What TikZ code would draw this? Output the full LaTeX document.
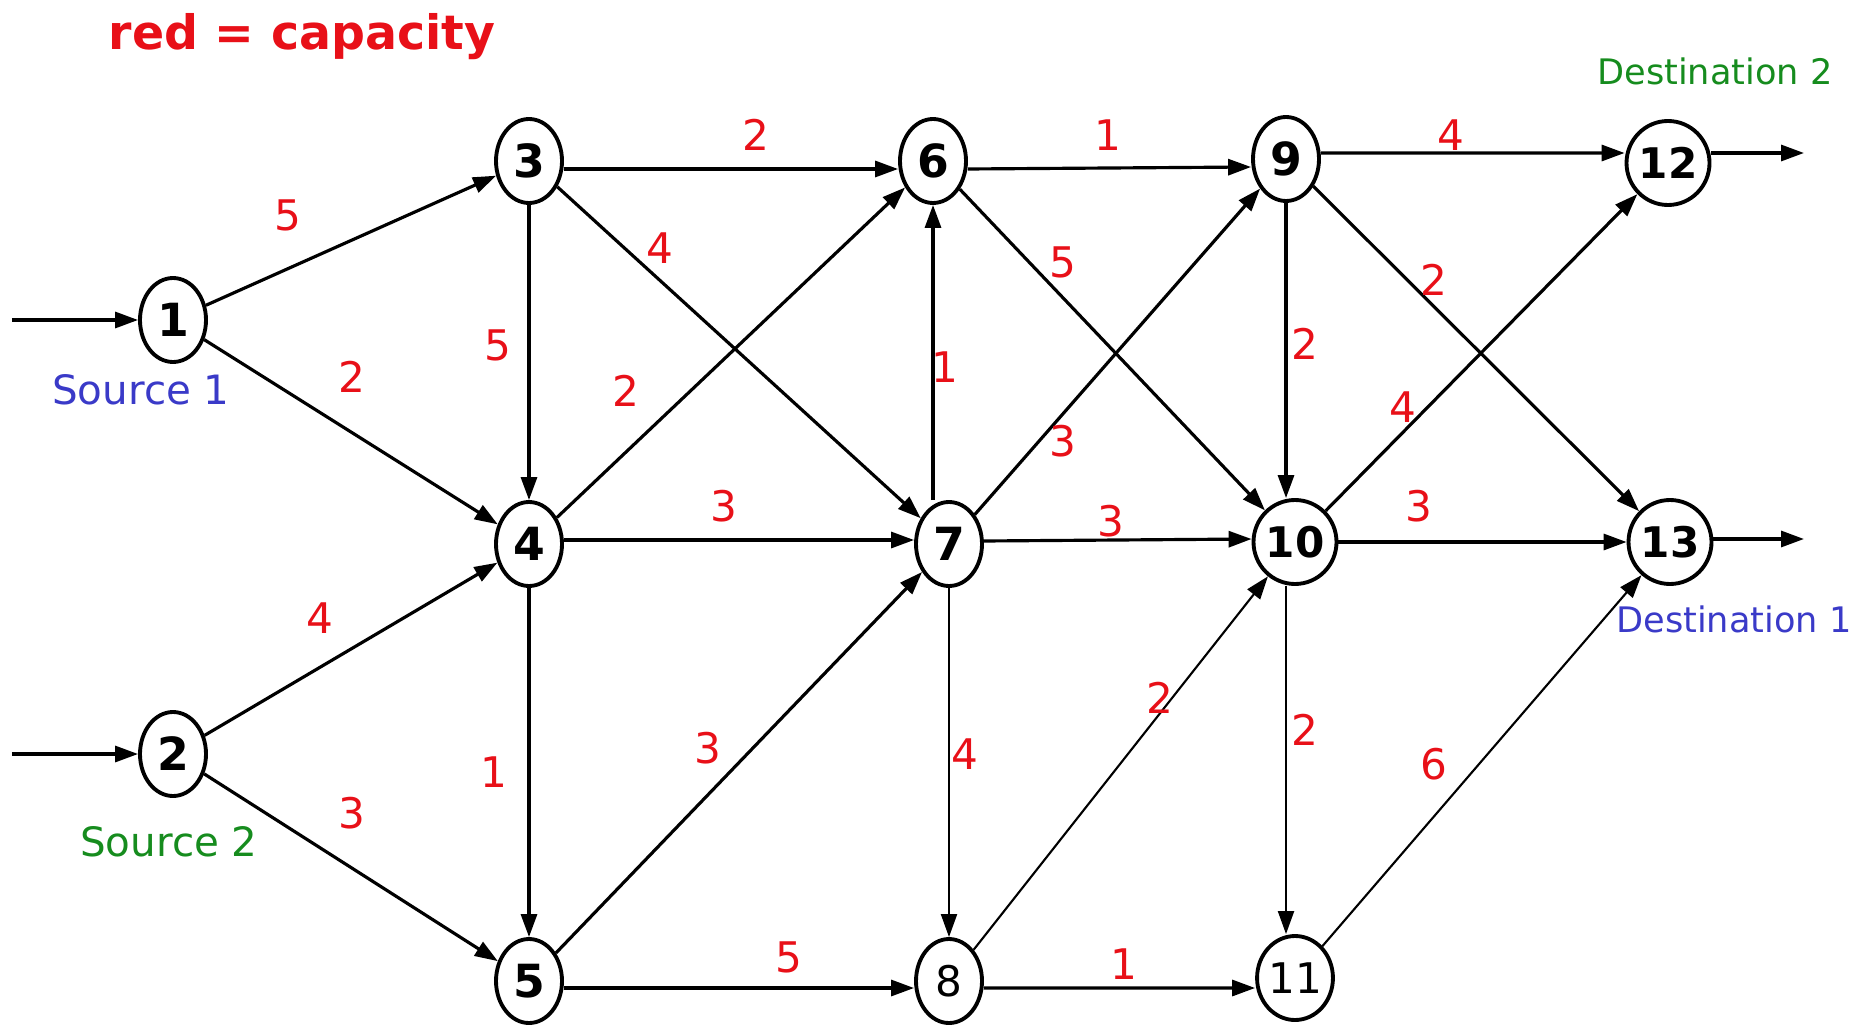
\documentclass[tikz,border=0pt]{standalone}
\usepackage{fontspec}
\setmainfont{DejaVu Sans}
\usepackage{tikz}
\usetikzlibrary{positioning, arrows.meta, shapes.geometric}
\definecolor{capred}{RGB}{232,16,24}
\definecolor{srcblue}{RGB}{58,58,200}
\definecolor{srcgreen}{RGB}{22,140,30}

\begin{document}
\begin{tikzpicture}[
  vx/.style={draw, ellipse, line width=1.1pt, inner sep=0pt, minimum width=0.66cm, minimum height=0.84cm, font=\fontsize{13}{13}\selectfont\bfseries},
  vxw/.style={vx, minimum width=0.8cm, font=\fontsize{12}{12}\selectfont\bfseries},
  vxl/.style={vx, font=\fontsize{12}{12}\selectfont},
  flow/.style={-{Triangle[length=2.3mm, width=1.6mm]}, line width=0.9pt},
  flowthin/.style={flow, line width=0.6pt},
  capnum/.style={text=capred, font=\fontsize{12}{12}\selectfont},
  tag/.style={font=\fontsize{10}{10}\selectfont},
  srctag/.style={tag, font=\fontsize{11.5}{11.5}\selectfont}]
\useasboundingbox (0,0) rectangle (18.71,10.24);
\node[text=capred, font=\fontsize{13.5}{13.5}\selectfont\bfseries] (title) at (3.02,9.87) {red = capacity};
% nodes
\node[vx] (n1) at (1.73,7.04) {1};
\node[vx] (n2) at (1.73,2.70) {2};
\node[vx] (n3) at (5.29,8.63) {3};
\node[vx] (n4) at (5.29,4.80) {4};
\node[vx] (n5) at (5.29,0.43) {5};
\node[vx] (n6) at (9.33,8.63) {6};
\node[vx] (n7) at (9.49,4.80) {7};
\node[vxl] (n8) at (9.49,0.43) {8};
\node[vx] (n9) at (12.86,8.65) {9};
\node[vxw] (n10) at (12.95,4.82) {10};
\node[vxl] (n11) at (12.95,0.46) {11};
\node[vxw] (n12) at (16.68,8.61) {12};
\node[vxw] (n13) at (16.70,4.82) {13};
\coordinate (in1) at (0.12,7.04);
\coordinate (in2) at (0.12,2.70);
\coordinate (out12) at (18.04,8.71);
\coordinate (out13) at (18.04,4.85);
% side tags
\node[srctag, text=srcblue, below=-0.02cm of n1, xshift=-0.32cm] (src1) {Source 1};
\node[srctag, text=srcgreen, below=0.16cm of n2, xshift=-0.04cm] (src2) {Source 2};
\node[tag, text=srcgreen, above=0.22cm of n12, xshift=0.47cm] (dst2) {Destination 2};
\node[tag, text=srcblue, below=0.07cm of n13, xshift=0.64cm] (dst1) {Destination 1};
% arcs
\draw[flow] (in1) -- (n1);
\draw[flow] (in2) -- (n2);
\draw[flow] (n1) -- (n3);
\draw[flow] (n1) -- (n4);
\draw[flow] (n2) -- (n4);
\draw[flow] (n2) -- (n5);
\draw[flow] ([yshift=-0.08cm]n3.east) -- ([yshift=-0.08cm]n6.west);
\draw[flow] (n3) -- (n4);
\draw[flow] (n3) -- (n7);
\draw[flow] (n4) -- (n6);
\draw[flow] ([yshift=0.04cm]n4.east) -- ([yshift=0.04cm]n7.west);
\draw[flow] (n4) -- (n5);
\draw[flow] (n5) -- (n7);
\draw[flow] ([yshift=-0.07cm]n5.east) -- ([yshift=-0.07cm]n8.west);
\draw[flow] ([yshift=-0.08cm]n6.east) -- ([yshift=-0.08cm]n9.west);
\draw[flow] (n6) -- (n10);
\draw[flow] (n6 |- n7.north) -- (n6);
\draw[flow] (n7) -- (n9);
\draw[flow] ([yshift=0.03cm]n7.east) -- ([yshift=0.03cm]n10.west);
\draw[flowthin] (n7) -- (n8);
\draw[flowthin] (n8) -- (n10);
\draw[flow] ([yshift=-0.07cm]n8.east) -- ([yshift=-0.1cm]n11.west);
\draw[flow] ([yshift=0.06cm]n9.east) -- ([yshift=0.1cm]n12.west);
\draw[flow] (n9) -- (n9 |- n10.north);
\draw[flow] (n9) -- (n13);
\draw[flow] (n10) -- (n12);
\draw[flow] (n10) -- (n13);
\draw[flowthin] (n9 |- n10.south) -- (n9 |- n11.north);
\draw[flowthin] (n11) -- (n13);
\draw[flow] (n12.east |- out12) -- (out12);
\draw[flow] (n13.east |- out13) -- (out13);
% capacities
\node[capnum] (c13) at (2.88,8.09) {5};
\node[capnum] (c14) at (3.52,6.47) {2};
\node[capnum] (c24) at (3.20,4.06) {4};
\node[capnum] (c25) at (3.52,2.11) {3};
\node[capnum] (c34) at (4.98,6.79) {5};
\node[capnum] (c36) at (7.56,8.89) {2};
\node[capnum] (c37) at (6.60,7.76) {4};
\node[capnum] (c46) at (6.26,6.33) {2};
\node[capnum] (c47) at (7.24,5.18) {3};
\node[capnum] (c45) at (4.94,2.52) {1};
\node[capnum] (c57) at (7.08,2.76) {3};
\node[capnum] (c58) at (7.89,0.67) {5};
\node[capnum] (c69) at (11.08,8.89) {1};
\node[capnum] (c610) at (10.63,7.62) {5};
\node[capnum] (c76) at (9.45,6.57) {1};
\node[capnum] (c79) at (10.63,5.83) {3};
\node[capnum] (c710) at (11.11,5.03) {3};
\node[capnum] (c78) at (9.65,2.70) {4};
\node[capnum] (c810) at (11.60,3.26) {2};
\node[capnum] (c811) at (11.24,0.60) {1};
\node[capnum] (c912) at (14.51,8.89) {4};
\node[capnum] (c913) at (14.34,7.44) {2};
\node[capnum] (c910) at (13.05,6.80) {2};
\node[capnum] (c1012) at (14.03,6.17) {4};
\node[capnum] (c1013) at (14.19,5.18) {3};
\node[capnum] (c1011) at (13.05,2.94) {2};
\node[capnum] (c1113) at (14.34,2.60) {6};
\end{tikzpicture}
\end{document}
